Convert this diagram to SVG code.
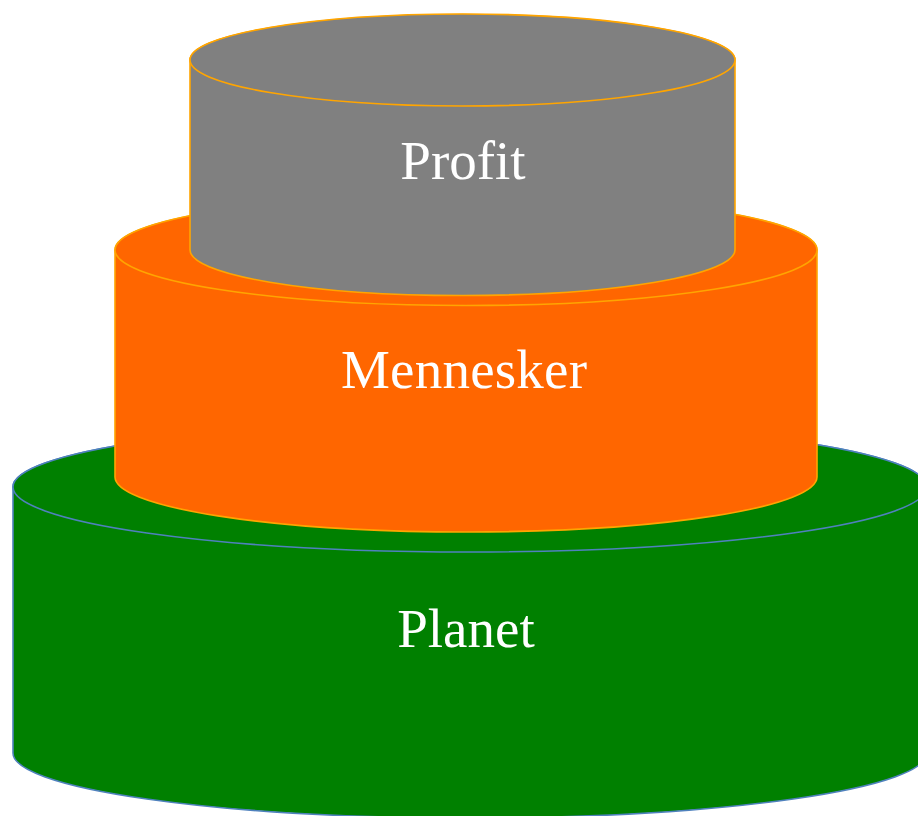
<svg xmlns="http://www.w3.org/2000/svg" width="918" height="816" viewBox="0 0 918 816">
<style>
.lbl{font-family:"Liberation Serif","DejaVu Serif",serif;font-size:55px;fill:#ffffff;text-anchor:middle}
.g{fill:#008000;stroke:#4f81bd;stroke-width:1.6}
.o{fill:#ff6600;stroke:#ffa500;stroke-width:1.6}
.p{fill:#808080;stroke:#ffa500;stroke-width:1.6}
</style>
<rect width="918" height="816" fill="#ffffff"/>
<g id="planet">
<path class="g" d="M13,487 L13,753 A457,65 0 0 0 927,753 L927,487 A457,65 0 0 0 13,487 Z"/>
<ellipse class="g" cx="470" cy="487" rx="457" ry="65"/>
<text class="lbl" x="466" y="647">Planet</text>
</g>
<g id="mennesker">
<path class="o" d="M115,250 L115,477 A351,55 0 0 0 817,477 L817,250 A351,55 0 0 0 115,250 Z"/>
<ellipse class="o" cx="466" cy="250" rx="351" ry="55.5"/>
<text class="lbl" x="464" y="388" textLength="246" lengthAdjust="spacing">Mennesker</text>
</g>
<g id="profit">
<path class="p" d="M190,60 L190,250 A272.5,45.5 0 0 0 735,250 L735,60 A272.5,45.5 0 0 0 190,60 Z"/>
<ellipse class="p" cx="462.5" cy="60" rx="272.5" ry="46"/>
<text class="lbl" x="463" y="179">Profit</text>
</g>
<g id="connectors"></g>
</svg>
